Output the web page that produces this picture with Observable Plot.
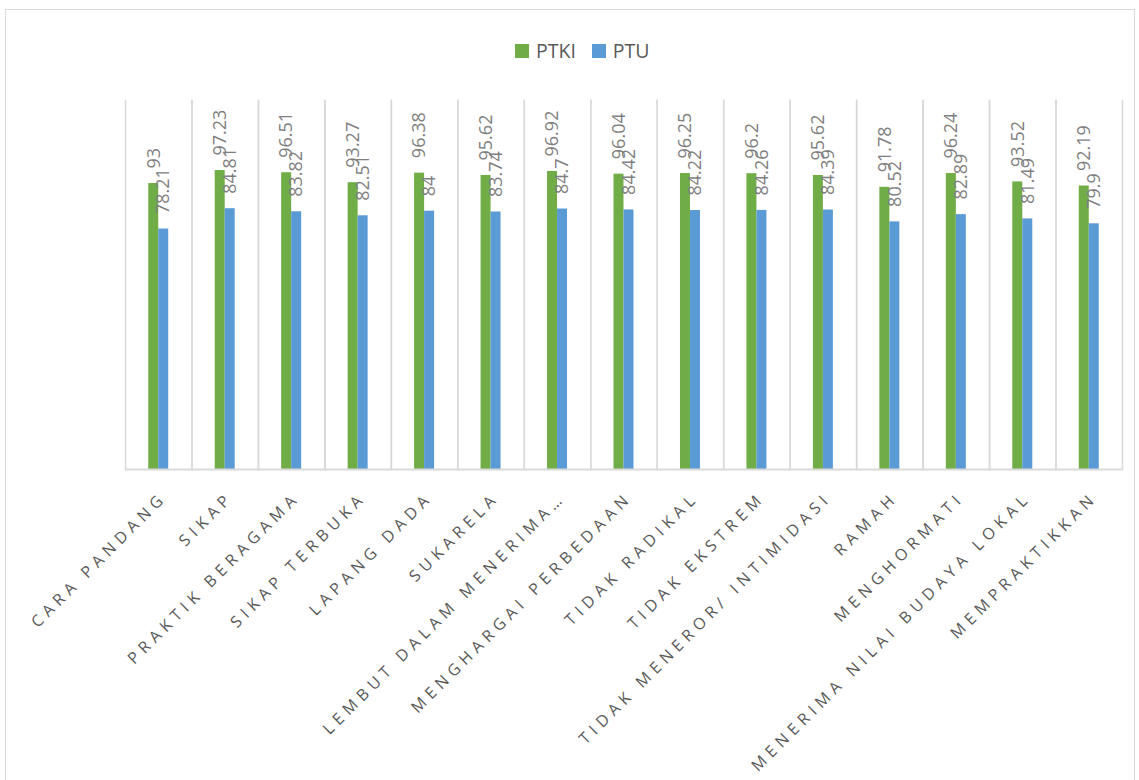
<!DOCTYPE html>
<html><head><meta charset="utf-8">
<script src="https://cdn.jsdelivr.net/npm/d3@7"></script>
<script src="https://cdn.jsdelivr.net/npm/@observablehq/plot@0.6"></script>
<style>
body{margin:0;overflow:hidden;background:#fff;font-family:"Open Sans",sans-serif}
#wrap{position:relative;width:1139px;height:780px;overflow:hidden;background:#fff}
#border{position:absolute;left:5px;top:9px;width:1130px;height:820px;border:1.5px solid #d9d9d9;box-sizing:border-box}
#chart{position:absolute;left:0;top:0}
#legend{position:absolute;top:37px;left:515px;display:flex;align-items:center;font-size:19.5px;color:#595959;font-family:"Open Sans",sans-serif}
#legend .item{display:flex;align-items:center;margin-right:16px}
#legend .sw{width:14px;height:14px;margin-right:7px}
</style>
</head><body>
<div id="wrap"><div id="border"></div><div id="chart"></div><div id="legend"></div></div>
<script>
const categories = ["CARA PANDANG","SIKAP","PRAKTIK BERAGAMA","SIKAP TERBUKA","LAPANG DADA","SUKARELA","LEMBUT DALAM MENERIMA…","MENGHARGAI PERBEDAAN","TIDAK RADIKAL","TIDAK EKSTREM","TIDAK MENEROR/ INTIMIDASI","RAMAH","MENGHORMATI","MENERIMA NILAI BUDAYA LOKAL","MEMPRAKTIKKAN"];
const series = ["PTKI","PTU"];
const colors = ["#70ad47","#5b9bd5"];
const ptki = [93, 97.23, 96.51, 93.27, 96.38, 95.62, 96.92, 96.04, 96.25, 96.2, 95.62, 91.78, 96.24, 93.52, 92.19];
const ptu = [78.21, 84.81, 83.82, 82.51, 84, 83.74, 84.7, 84.42, 84.22, 84.26, 84.39, 80.52, 82.89, 81.49, 79.9];

const data = categories.flatMap((c, i) => [
  {category: c, series: "PTKI", value: ptki[i]},
  {category: c, series: "PTU", value: ptu[i]}
]);

const chart = Plot.plot({
  width: 1139, height: 780,
  marginLeft: 125, marginRight: 17, marginTop: 100, marginBottom: 311,
  style: {fontFamily: "'Open Sans', sans-serif", background: "transparent"},
  fx: {domain: categories, padding: 0, round: false, axis: null},
  x: {domain: series, paddingInner: 0, paddingOuter: 2.325, round: false, axis: null},
  y: {domain: [0, 120], axis: null},
  color: {domain: series, range: colors},
  marks: [
    Plot.frame({anchor: "left", stroke: "#d9d9d9", strokeWidth: 1.5}),
    Plot.frame({anchor: "right", stroke: "#d9d9d9", strokeWidth: 1.5}),
    Plot.barY(data, {fx: "category", x: "series", y: "value", fill: "series", inset: 0}),
    Plot.ruleY([0], {stroke: "#d9d9d9", strokeWidth: 2}),
    Plot.text(data, {fx: "category", x: "series", y: "value", text: d => String(d.value), rotate: -90, textAnchor: "start", dy: -15, fill: "#7f7f7f", fontSize: 18}),
    Plot.text(categories, {fx: d => d, frameAnchor: "bottom", text: d => d, rotate: -45, textAnchor: "end", lineAnchor: "top", dy: 21, dx: 1, fill: "#595959", fontSize: 16})
  ]
});
document.getElementById("chart").appendChild(chart);
const tg = d3.select(chart).selectAll('g[aria-label="text"]').nodes();
d3.select(tg[tg.length - 1]).attr("letter-spacing", "5.2");

const lg = d3.select("#legend");
series.forEach((s, i) => {
  const it = lg.append("div").attr("class", "item");
  it.append("div").attr("class", "sw").style("background", colors[i]);
  it.append("span").text(s);
});
</script>
</body></html>
